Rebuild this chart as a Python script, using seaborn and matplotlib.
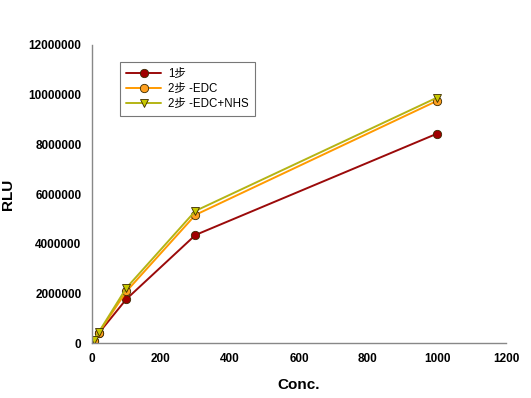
import pandas as pd
import matplotlib
matplotlib.use("Agg")
import matplotlib.pyplot as plt
import seaborn as sns

# Data
conc = [0, 5, 20, 100, 300, 1000]
rlu_step1 = [20000, 80000, 400000, 1770000, 4350000, 8430000]
rlu_edc = [30000, 100000, 420000, 2080000, 5160000, 9750000]
rlu_edc_nhs = [40000, 110000, 440000, 2220000, 5320000, 9880000]
labels = ["1步", "2步 -EDC", "2步 -EDC+NHS"]

df = pd.DataFrame({
    "Conc.": conc * 3,
    "RLU": rlu_step1 + rlu_edc + rlu_edc_nhs,
    "series": [labels[0]] * 6 + [labels[1]] * 6 + [labels[2]] * 6,
})

sns.set_style("white")
plt.rcParams["font.family"] = ["Liberation Sans", "Noto Sans CJK SC"]
plt.rcParams["text.color"] = "black"
plt.rcParams["axes.labelcolor"] = "black"
plt.rcParams["xtick.color"] = "black"
plt.rcParams["ytick.color"] = "black"

line_colors = {labels[0]: "#9b0a0a", labels[1]: "#ff9a00", labels[2]: "#b4b414"}
face_colors = {labels[0]: "#a00000", labels[1]: "#ffa020", labels[2]: "#c8c800"}
markers = {labels[0]: "o", labels[1]: "o", labels[2]: "v"}

fig = plt.figure(figsize=(5.31, 3.98), dpi=100)
ax = fig.add_axes([0.173, 0.138, 0.780, 0.749])

for lab in labels:
    sub = df[df["series"] == lab]
    sns.lineplot(data=sub, x="Conc.", y="RLU", ax=ax, label=lab,
                 color=line_colors[lab], marker=markers[lab], markersize=6,
                 markerfacecolor=face_colors[lab], markeredgecolor="#3a2a00",
                 markeredgewidth=0.6, linewidth=1.4)

ax.set_xlim(0, 1200)
ax.set_ylim(0, 12000000)
ax.set_xticks(range(0, 1201, 200))
ax.set_yticks(range(0, 12000001, 2000000))
ax.set_yticklabels([str(v) for v in range(0, 12000001, 2000000)])
for s in ["top", "right"]:
    ax.spines[s].set_visible(False)
for s in ["left", "bottom"]:
    ax.spines[s].set_color("#888888")
    ax.spines[s].set_linewidth(1.0)
ax.tick_params(direction="out", length=4, width=1, color="#888888",
               labelcolor="black", labelsize=8.5)
for t in ax.get_xticklabels() + ax.get_yticklabels():
    t.set_fontweight("bold")
ax.set_xlabel("Conc.", fontsize=11, fontweight="bold", labelpad=9)
ax.set_ylabel("RLU", fontsize=11, fontweight="bold", labelpad=10)

leg = ax.legend(loc="upper left", bbox_to_anchor=(0.068, 0.943), fontsize=8.3,
                frameon=True, fancybox=False, edgecolor="#555555",
                handlelength=3, borderpad=0.55, labelspacing=0.25,
                borderaxespad=0, handletextpad=0.6)
leg.get_frame().set_linewidth(0.8)

fig.savefig("out.png", dpi=100)
